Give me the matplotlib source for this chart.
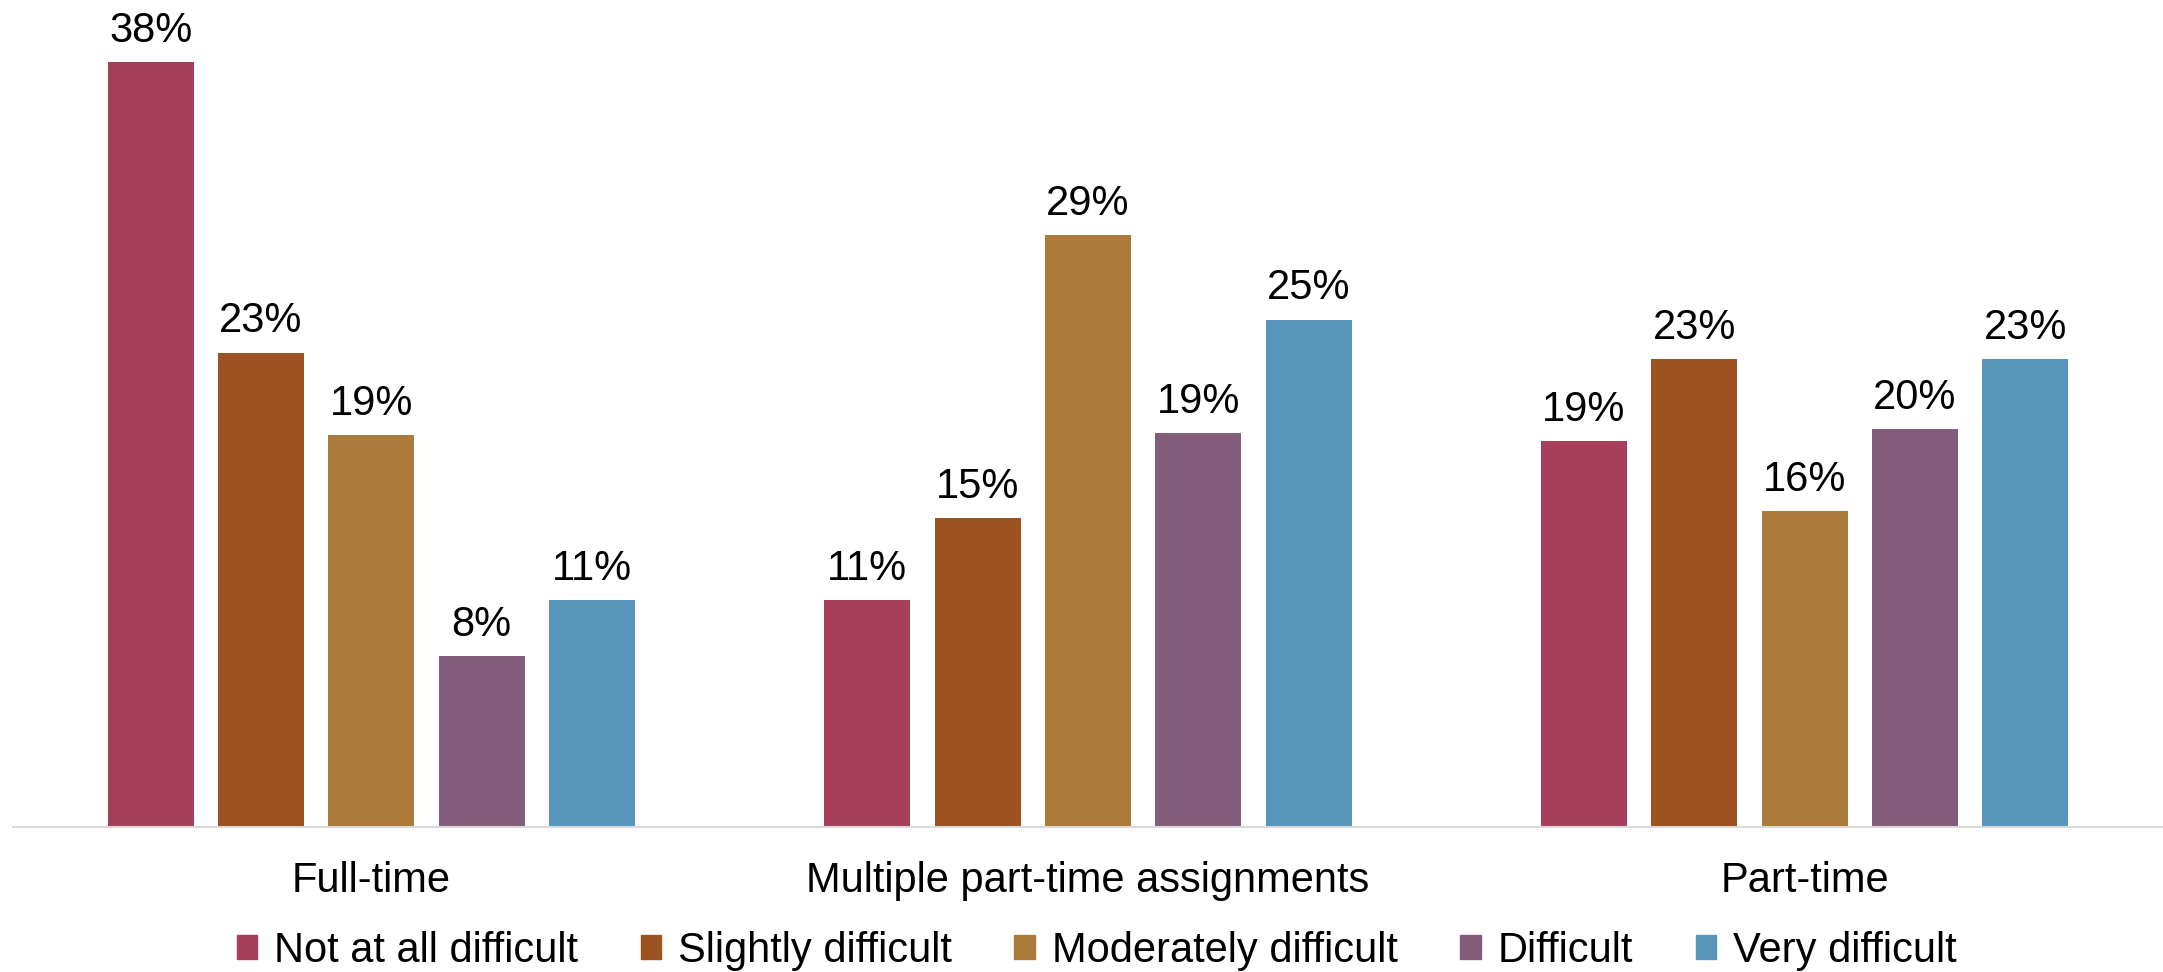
import numpy as np
import matplotlib.pyplot as plt
from matplotlib.patches import Patch

plt.rcParams['font.family'] = ['Liberation Sans', 'DejaVu Sans']

# Data (bar heights, labels as printed)
groups = ['Full-time', 'Multiple part-time assignments', 'Part-time']
levels = ['Not at all difficult', 'Slightly difficult', 'Moderately difficult',
          'Difficult', 'Very difficult']
not_at_all = [37.1, 11.0, 18.7]
slightly = [23.0, 15.0, 22.7]
moderately = [19.0, 28.7, 15.3]
difficult = [8.3, 19.1, 19.3]
very = [11.0, 24.6, 22.7]
not_at_all_lbl = ['38%', '11%', '19%']
slightly_lbl = ['23%', '15%', '23%']
moderately_lbl = ['19%', '29%', '16%']
difficult_lbl = ['8%', '19%', '20%']
very_lbl = ['11%', '25%', '23%']
series = [not_at_all, slightly, moderately, difficult, very]
labels = [not_at_all_lbl, slightly_lbl, moderately_lbl, difficult_lbl, very_lbl]
colors = ['#A63F5A', '#9C5221', '#AC7A3A', '#825C7A', '#5795BB']

fig = plt.figure(figsize=(21.63, 9.72), dpi=100)
ax = fig.add_axes([0.006, 0.149, 0.994, 0.83])

x = np.arange(len(groups))
pitch = 0.154
width = 0.12
for i, (vals, c) in enumerate(zip(series, colors)):
    pos = x + (i - 2) * pitch
    bars = ax.bar(pos, vals, width=width, color=c, label=levels[i])
    for b, v, t in zip(bars, vals, labels[i]):
        ax.annotate(t, (b.get_x() + b.get_width() / 2, v),
                    xytext=(0, 8), textcoords='offset points',
                    ha='center', va='bottom', fontsize=30)

ax.set_xlim(-0.5, 2.5)
ax.set_ylim(0, 39.1)
ax.set_xticks(x)
ax.set_xticklabels(groups, fontsize=30)
ax.tick_params(axis='x', length=0, pad=24)
ax.set_yticks([])
for s in ['top', 'right', 'left']:
    ax.spines[s].set_visible(False)
ax.spines['bottom'].set_color('#D9D9D9')
ax.spines['bottom'].set_linewidth(1.5)

handles = [Patch(color=c, label=l) for c, l in zip(colors, levels)]
fig.legend(handles=handles, loc='center', bbox_to_anchor=(0.507, 0.022),
           ncol=5, frameon=False, fontsize=30, handlelength=0.5, handleheight=0.5,
           handletextpad=0.4, columnspacing=1.5)

fig.savefig('out.png', dpi=100)
